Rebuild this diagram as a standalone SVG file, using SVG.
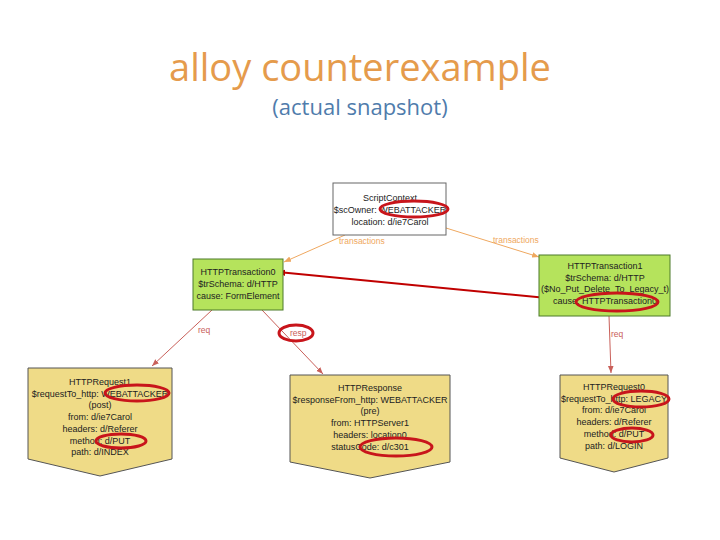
<svg xmlns="http://www.w3.org/2000/svg" width="720" height="540" viewBox="0 0 720 540">
<defs>
<style>
.t{font-family:"Liberation Sans",Arial,sans-serif;font-size:9px;fill:#222;text-anchor:middle}
.lbl{font-family:"Liberation Sans",Arial,sans-serif;font-size:8.5px;text-anchor:start}
.green{fill:#b5e35c;stroke:#4d7a2a;stroke-width:1}
.yel{fill:#efdb87;stroke:#555;stroke-width:1}
.oval{fill:none;stroke:#c8151b;stroke-width:3}
.tr{stroke:#efa860;stroke-width:1;fill:none}
.rq{stroke:#c9605a;stroke-width:1;fill:none}
</style>
<marker id="ao" viewBox="0 0 10 10" refX="10" refY="5" markerWidth="7" markerHeight="7" orient="auto"><path d="M0,1 L10,5 L0,9 z" fill="#efa860"/></marker>
<marker id="ar" viewBox="0 0 10 10" refX="10" refY="5" markerWidth="7" markerHeight="7" orient="auto"><path d="M0,1 L10,5 L0,9 z" fill="#c9605a"/></marker>
<marker id="ab" viewBox="0 0 10 10" refX="9" refY="5" markerWidth="4" markerHeight="4" orient="auto"><path d="M0,1 L10,5 L0,9 z" fill="#c00000"/></marker>
</defs>
<rect width="720" height="540" fill="#fff"/>
<text x="360" y="81" font-family="'Open Sans','Liberation Sans',sans-serif" font-size="38" fill="#e59b4c" text-anchor="middle">alloy counterexample</text>
<text x="360" y="115" font-family="'Open Sans','Liberation Sans',sans-serif" font-size="22" fill="#4f7cac" text-anchor="middle">(actual snapshot)</text>

<g id="connectors">
<line class="tr" x1="345" y1="235" x2="284" y2="262" marker-end="url(#ao)"/>
<text class="lbl" x="339" y="244" fill="#efa860">transactions</text>
<line class="tr" x1="446" y1="228" x2="539" y2="257" marker-end="url(#ao)"/>
<text class="lbl" x="493" y="243" fill="#efa860">transactions</text>
<line class="rq" x1="212" y1="310" x2="152" y2="366" marker-end="url(#ar)"/>
<text class="lbl" x="198" y="333" fill="#c9605a">req</text>
<line class="rq" x1="262" y1="310" x2="323" y2="374" marker-end="url(#ar)"/>
<text class="lbl" x="290" y="336" fill="#c9605a">resp</text>
<line class="rq" x1="609" y1="316" x2="611" y2="373" marker-end="url(#ar)"/>
<text class="lbl" x="611" y="337" fill="#c9605a">req</text>
<line x1="578" y1="301" x2="278" y2="272" stroke="#c00000" stroke-width="2" marker-end="url(#ab)"/>
</g>

<g id="ScriptContext">
<rect x="333" y="183" width="113" height="52" fill="#fff" stroke="#666"/>
<text class="t" x="390" y="201">ScriptContext</text>
<text class="t" x="390" y="213">$scOwner: WEBATTACKER</text>
<text class="t" x="390" y="225">location: d/ie7Carol</text>
</g>

<g id="HTTPTransaction0">
<rect class="green" x="193" y="259" width="90" height="51"/>
<text class="t" x="238" y="275">HTTPTransaction0</text>
<text class="t" x="238" y="287">$trSchema: d/HTTP</text>
<text class="t" x="238" y="299">cause: FormElement</text>
</g>

<g id="HTTPTransaction1">
<rect class="green" x="539" y="255" width="131" height="61"/>
<text class="t" x="605" y="269">HTTPTransaction1</text>
<text class="t" x="605" y="281">$trSchema: d/HTTP</text>
<text class="t" x="605" y="292">($No_Put_Delete_To_Legacy_t)</text>
<text class="t" x="605" y="304">cause: HTTPTransaction0</text>
</g>

<g id="HTTPRequest1">
<path class="yel" d="M28,368 L172,368 L172,459 L100,476 L28,459 Z"/>
<text class="t" x="100" y="385">HTTPRequest1</text>
<text class="t" x="100" y="397">$requestTo_http: WEBATTACKER</text>
<text class="t" x="100" y="408">(post)</text>
<text class="t" x="100" y="420">from: d/ie7Carol</text>
<text class="t" x="100" y="432">headers: d/Referer</text>
<text class="t" x="100" y="444">method: d/PUT</text>
<text class="t" x="100" y="455">path: d/INDEX</text>
</g>

<g id="HTTPResponse">
<path class="yel" d="M290,375 L450,375 L450,462 L370,478 L290,462 Z"/>
<text class="t" x="370" y="391">HTTPResponse</text>
<text class="t" x="370" y="403">$responseFrom_http: WEBATTACKER</text>
<text class="t" x="370" y="414">(pre)</text>
<text class="t" x="370" y="426">from: HTTPServer1</text>
<text class="t" x="370" y="438">headers: location0</text>
<text class="t" x="370" y="450">statusCode: d/c301</text>
</g>

<g id="HTTPRequest0">
<path class="yel" d="M560,375 L668,375 L668,458 L614,472 L560,458 Z"/>
<text class="t" x="614" y="390">HTTPRequest0</text>
<text class="t" x="614" y="402">$requestTo_http: LEGACY</text>
<text class="t" x="614" y="413">from: d/ie7Carol</text>
<text class="t" x="614" y="425">headers: d/Referer</text>
<text class="t" x="614" y="437">method: d/PUT</text>
<text class="t" x="614" y="449">path: d/LOGIN</text>
</g>

<g id="highlights">
<ellipse class="oval" cx="414" cy="209" rx="34" ry="8"/>
<ellipse class="oval" cx="617" cy="302" rx="41" ry="9"/>
<ellipse class="oval" cx="296" cy="333" rx="17" ry="8"/>
<ellipse class="oval" cx="137" cy="393" rx="32" ry="8"/>
<ellipse class="oval" cx="121" cy="441" rx="25" ry="7"/>
<ellipse class="oval" cx="396" cy="447" rx="36" ry="9"/>
<ellipse class="oval" cx="641" cy="399" rx="28" ry="8"/>
<ellipse class="oval" cx="632" cy="435" rx="21" ry="7"/>
</g>
</svg>
